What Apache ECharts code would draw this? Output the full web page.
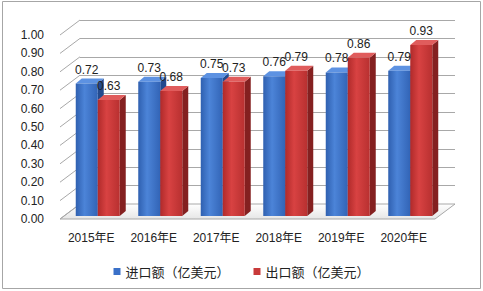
<!DOCTYPE html>
<html><head><meta charset="utf-8">
<script src="https://cdn.jsdelivr.net/npm/echarts@6/dist/echarts.min.js"></script>
<style>html,body{margin:0;padding:0;background:#fff}#c{width:483px;height:291px}</style>
</head><body><div id="c"></div>
<script>
const categories = ['2015年E','2016年E','2017年E','2018年E','2019年E','2020年E'];
const importValues = [0.72,0.73,0.75,0.76,0.78,0.79];
const exportValues = [0.63,0.68,0.73,0.79,0.86,0.93];
const seriesNames = ['进口额（亿美元）','出口额（亿美元）'];
const yTicks = [0,0.1,0.2,0.3,0.4,0.5,0.6,0.7,0.8,0.9,1.0];

const FONT = '"Liberation Sans","Noto Sans CJK SC",sans-serif';
const CJKFONT = '"Noto Sans CJK SC",sans-serif';
const DX = 20, DY = -15;          // wall depth offset
const BDX = 6, BDY = -5;          // bar depth
const BSHIFT = 3;                 // bar front plane lift

const styles = [
  {front:['#2f60b0','#4c84d8','#3264b6'], side:'#234a8e', top:'#5d92e2', offset:-15.5, legend:'#3a70c8'},
  {front:['#b02a2a','#d84242','#b83030'], side:'#842020', top:'#e05c5c', offset:6.5, legend:'#c83a3a'}
];

function barGeom(api, k){
  const i = api.value(0), v = api.value(1);
  const base = api.coord([i, 0]);
  const topP = api.coord([i, v]);
  const bw = api.size([1, 0])[0];
  const s = bw / 62.5;
  const xl = base[0] + styles[k].offset * s;
  const xr = xl + 22 * s;
  const yb = base[1] - BSHIFT;
  const yt = topP[1] - BSHIFT;
  return {xl, xr, yb, yt, v};
}

function barRender(k){
  return function(params, api){
    const g = barGeom(api, k);
    const st = styles[k];
    return {
      type:'group',
      children:[
        {type:'polygon', shape:{points:[[g.xr,g.yt],[g.xr+BDX,g.yt+BDY],[g.xr+BDX,g.yb+BDY],[g.xr,g.yb]]}, style:{fill:st.side}},
        {type:'polygon', shape:{points:[[g.xl,g.yt],[g.xr,g.yt],[g.xr+BDX,g.yt+BDY],[g.xl+BDX,g.yt+BDY]]}, style:{fill:st.top}},
        {type:'rect', shape:{x:g.xl, y:g.yt, width:g.xr-g.xl, height:g.yb-g.yt},
          style:{fill:new echarts.graphic.LinearGradient(0,0,1,0,[
            {offset:0,color:st.front[0]},{offset:0.4,color:st.front[1]},{offset:1,color:st.front[2]}])}}
      ]
    };
  };
}

function labelRender(k){
  return function(params, api){
    const g = barGeom(api, k);
    return {type:'text', style:{text:g.v.toFixed(2), x:(g.xl+g.xr)/2, y:g.yt-14, align:'center', verticalAlign:'middle',
      fill:'#222', font:'12px ' + FONT}};
  };
}

function frameRender(params, api){
  const v = api.value(0);
  const cs = params.coordSys;
  const p = api.coord([0, v]);
  const x0 = cs.x;
  const children = [
    {type:'line', shape:{x1:x0, y1:p[1], x2:x0+DX, y2:p[1]+DY}, style:{stroke:'#a8a8a8', lineWidth:1}}
  ];
  if (v === 0) {
    const x1 = cs.x + cs.width;
    children.unshift({type:'polygon', shape:{points:[[x0,p[1]],[x1,p[1]],[x1+DX,p[1]+DY],[x0+DX,p[1]+DY]]},
      style:{fill:new echarts.graphic.LinearGradient(0,0,0,1,[{offset:0,color:'#ffffff'},{offset:1,color:'#e6e6e6'}]), stroke:'#a8a8a8', lineWidth:1}});
  }
  return {type:'group', children};
}

const chart = echarts.init(document.getElementById('c'), null, {renderer:'svg'});
chart.setOption({
  animation:false,
  textStyle:{fontFamily:FONT},
  graphic:[{type:'rect', shape:{x:2.5,y:1.5,width:478,height:287}, style:{fill:'none', stroke:'#a6a6a6', lineWidth:1}, z:-10}],
  legend:{
    data:seriesNames, top:260, left:'center', icon:'rect', itemWidth:7, itemHeight:7, itemGap:24,
    textStyle:{fontSize:13, color:'#222', fontFamily:CJKFONT}
  },
  grid:[
    {left:60, right:48, top:35, bottom:72},
    {left:80, right:28, top:20, bottom:87}
  ],
  xAxis:[
    {type:'category', gridIndex:0, data:categories, axisLine:{show:false}, axisTick:{show:false},
      axisLabel:{margin:13, fontSize:12, color:'#222', fontFamily:FONT}},
    {type:'category', gridIndex:1, data:categories, show:false}
  ],
  yAxis:[
    {type:'value', gridIndex:0, min:0, max:1, interval:0.1, splitLine:{show:false}, axisLine:{show:false}, axisTick:{show:false},
      axisLabel:{margin:16, fontSize:12, color:'#222', fontFamily:FONT, formatter:v=>v.toFixed(2)}},
    {type:'value', gridIndex:1, min:0, max:1, interval:0.1, axisLabel:{show:false}, axisLine:{show:false}, axisTick:{show:false},
      splitLine:{show:true, lineStyle:{color:'#a8a8a8', width:1}}}
  ],
  series:[
    {type:'custom', name:'frame', xAxisIndex:0, yAxisIndex:0, renderItem:frameRender, clip:false, z:1,
      data:yTicks.map(v=>[v]), encode:{y:0}, silent:true},
    {type:'custom', name:seriesNames[0], xAxisIndex:0, yAxisIndex:0, renderItem:barRender(0), clip:false, z:3,
      itemStyle:{color:styles[0].legend}, data:importValues.map((v,i)=>[i,v]), encode:{x:0,y:1}},
    {type:'custom', name:seriesNames[1], xAxisIndex:0, yAxisIndex:0, renderItem:barRender(1), clip:false, z:4,
      itemStyle:{color:styles[1].legend}, data:exportValues.map((v,i)=>[i,v]), encode:{x:0,y:1}},
    {type:'custom', name:'lbl0', xAxisIndex:0, yAxisIndex:0, renderItem:labelRender(0), clip:false, z:6,
      data:importValues.map((v,i)=>[i,v]), encode:{x:0,y:1}},
    {type:'custom', name:'lbl1', xAxisIndex:0, yAxisIndex:0, renderItem:labelRender(1), clip:false, z:6,
      data:exportValues.map((v,i)=>[i,v]), encode:{x:0,y:1}}
  ]
});
</script></body></html>
